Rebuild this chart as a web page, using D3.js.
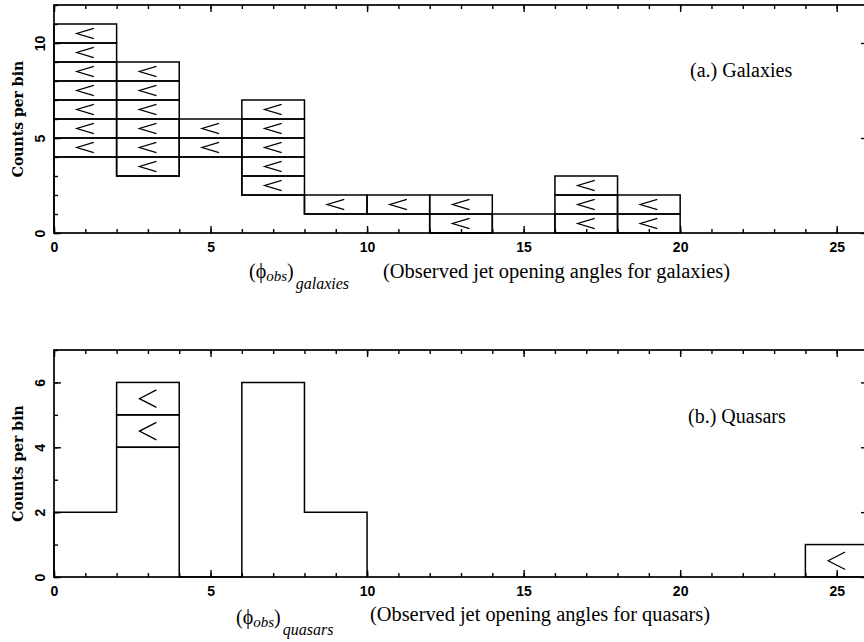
<!DOCTYPE html>
<html>
<head>
<meta charset="utf-8">
<script src="https://cdn.jsdelivr.net/npm/d3@7"></script>
<style>
  html, body { margin: 0; padding: 0; background: #fff; }
  svg { display: block; }
</style>
</head>
<body>
<div id="chart"></div>
<script>
// Data: bins of 2 degrees
const binStarts = [0, 2, 4, 6, 8, 10, 12, 14, 16, 18, 20, 22, 24];
const binWidth = 2;

// galaxies: detections (plain histogram) and upper limits (boxes with "<")
const galaxiesDet = [4, 3, 4, 2, 1, 1, 0, 1, 0, 0, 0, 0, 0];
const galaxiesLim = [7, 6, 2, 5, 1, 1, 2, 0, 3, 2, 0, 0, 0];

// quasars
const quasarsDet = [2, 4, 0, 6, 2, 0, 0, 0, 0, 0, 0, 0, 0];
const quasarsLim = [0, 2, 0, 0, 0, 0, 0, 0, 0, 0, 0, 0, 1];

// axis ticks
const xMajorTicks = [0, 5, 10, 15, 20, 25];
const xMinorTicks = d3.range(0, 27, 1);
const galaxiesYMajor = [0, 5, 10];
const galaxiesYMinor = d3.range(0, 13, 1);
const quasarsYMajor = [0, 2, 4, 6];
const quasarsYMinor = d3.range(0, 8, 1);

//---------------------------------------------------------------------------------------

const width = 864;
const height = 642;

const svg = d3
  .select("#chart")
  .append("svg")
  .attr("width", width)
  .attr("height", height)
  .attr("viewBox", [0, 0, width, height]);

// common x scale (the frame runs a little past the right edge of the picture)
const scaleX = d3.scaleLinear().domain([0, 26]).range([54, 868]);

const serif = "'Liberation Serif', 'Times New Roman', serif";
const boldSans = "'Liberation Sans', Arial, sans-serif";

//---------------------------------------------------------------------------------------

function drawPanel(cfg) {
  const scaleY = d3.scaleLinear().domain(cfg.yDomain).range(cfg.yRange);
  const g = svg.append("g");
  const x0 = scaleX.range()[0];
  const x1 = scaleX.range()[1];
  const yB = cfg.yRange[0];
  const yT = cfg.yRange[1];

  // axes (ticks pointing inside the frame)
  const bottomMajor = g.append("g")
    .attr("transform", `translate(0, ${yB})`)
    .call(d3.axisBottom(scaleX).tickValues(xMajorTicks).tickSizeInner(-7).tickSizeOuter(0).tickPadding(9).tickFormat(d3.format("d")))
    .call(a => a.select(".domain").remove());
  bottomMajor.selectAll("text")
    .attr("font-family", boldSans)
    .attr("font-weight", "bold")
    .attr("font-size", 14)
    .attr("fill", "#000");

  g.append("g")
    .attr("transform", `translate(0, ${yB})`)
    .call(d3.axisBottom(scaleX).tickValues(xMinorTicks).tickSizeInner(-4).tickSizeOuter(0).tickFormat(""))
    .call(a => a.select(".domain").remove());

  g.append("g")
    .attr("transform", `translate(0, ${yT})`)
    .call(d3.axisTop(scaleX).tickValues(xMajorTicks).tickSizeInner(-7).tickSizeOuter(0).tickFormat(""))
    .call(a => a.select(".domain").remove());

  g.append("g")
    .attr("transform", `translate(0, ${yT})`)
    .call(d3.axisTop(scaleX).tickValues(xMinorTicks).tickSizeInner(-4).tickSizeOuter(0).tickFormat(""))
    .call(a => a.select(".domain").remove());

  const leftMajor = g.append("g")
    .attr("transform", `translate(${x0}, 0)`)
    .call(d3.axisLeft(scaleY).tickValues(cfg.yMajor).tickSizeInner(-7).tickSizeOuter(0).tickFormat(d3.format("d")))
    .call(a => a.select(".domain").remove());
  leftMajor.selectAll("text")
    .attr("x", 0)
    .attr("dy", "0.36em")
    .attr("text-anchor", "middle")
    .attr("transform", "translate(-14, 0) rotate(-90)")
    .attr("font-family", boldSans)
    .attr("font-weight", "bold")
    .attr("font-size", 14)
    .attr("fill", "#000");

  g.append("g")
    .attr("transform", `translate(${x0}, 0)`)
    .call(d3.axisLeft(scaleY).tickValues(cfg.yMinor).tickSizeInner(-4).tickSizeOuter(0).tickFormat(""))
    .call(a => a.select(".domain").remove());

  g.append("g")
    .attr("transform", `translate(${x1}, 0)`)
    .call(d3.axisRight(scaleY).tickValues(cfg.yMajor).tickSizeInner(-7).tickSizeOuter(0).tickFormat(""))
    .call(a => a.select(".domain").remove());

  g.append("g")
    .attr("transform", `translate(${x1}, 0)`)
    .call(d3.axisRight(scaleY).tickValues(cfg.yMinor).tickSizeInner(-4).tickSizeOuter(0).tickFormat(""))
    .call(a => a.select(".domain").remove());

  g.selectAll(".tick line").attr("stroke", "#000").attr("stroke-width", 1.4);

  // frame
  g.append("rect")
    .attr("x", x0)
    .attr("y", yT)
    .attr("width", x1 - x0)
    .attr("height", yB - yT)
    .attr("fill", "none")
    .attr("stroke", "#000")
    .attr("stroke-width", 1.7);

  // detections: step outline
  const nLast = d3.max(binStarts.filter((b, i) => cfg.det[i] > 0)) + binWidth;
  const pts = [[0, 0]]
    .concat(binStarts.filter(b => b < nLast).map((b, i) => [b, cfg.det[i]]))
    .concat([[nLast, 0]]);
  const step = d3.line()
    .x(d => scaleX(d[0]))
    .y(d => scaleY(d[1]))
    .curve(d3.curveStepAfter);
  g.append("path")
    .attr("d", step(pts))
    .attr("fill", "none")
    .attr("stroke", "#000")
    .attr("stroke-width", 1.5);

  // upper limits: one box per count, stacked above detections
  const cells = [];
  binStarts.forEach((b, i) => {
    for (let k = 0; k < cfg.lim[i]; k++) {
      cells.push({ x: b, y0: cfg.det[i] + k, y1: cfg.det[i] + k + 1 });
    }
  });

  g.selectAll("rect.cell")
    .data(cells)
    .join("rect")
    .attr("class", "cell")
    .attr("x", d => scaleX(d.x))
    .attr("y", d => scaleY(d.y1))
    .attr("width", scaleX(binWidth) - scaleX(0))
    .attr("height", d => scaleY(d.y0) - scaleY(d.y1))
    .attr("fill", "none")
    .attr("stroke", "#000")
    .attr("stroke-width", 1.5);

  // "<" sign in every box
  g.selectAll("path.lt")
    .data(cells)
    .join("path")
    .attr("class", "lt")
    .attr("d", d => {
      const cx = scaleX(d.x + binWidth / 2);
      const cy = (scaleY(d.y0) + scaleY(d.y1)) / 2;
      const h = (scaleY(d.y0) - scaleY(d.y1)) * 0.54;
      return `M${cx + 8.5},${cy - h / 2}L${cx - 8.5},${cy}L${cx + 8.5},${cy + h / 2}`;
    })
    .attr("fill", "none")
    .attr("stroke", "#000")
    .attr("stroke-width", 1.3);

  // y title
  g.append("text")
    .attr("transform", `translate(18, ${(yB + yT) / 2}) rotate(-90)`)
    .attr("text-anchor", "middle")
    .attr("dy", "0.35em")
    .attr("font-family", "'DejaVu Serif', serif")
    .attr("font-weight", "bold")
    .attr("font-size", 14)
    .text("Counts per bin");

  // panel label
  g.append("text")
    .attr("x", cfg.label.x)
    .attr("y", cfg.label.y)
    .attr("font-family", serif)
    .attr("font-size", 20)
    .text(cfg.label.text);

  // x title: symbol part
  const sym = g.append("text")
    .attr("x", cfg.sym.x)
    .attr("y", cfg.sym.y)
    .attr("font-family", serif)
    .attr("font-size", 20);
  sym.append("tspan").text("(\u03D5");
  sym.append("tspan").attr("font-style", "italic").attr("font-size", 15).attr("dy", 3).text("obs");
  sym.append("tspan").attr("dy", -3).text(")");
  sym.append("tspan").attr("font-style", "italic").attr("font-size", 16).attr("dx", 2).attr("dy", 11).text(cfg.sym.sub);

  // x title: description
  g.append("text")
    .attr("x", cfg.desc.x)
    .attr("y", cfg.desc.y)
    .attr("font-family", serif)
    .attr("font-size", 20)
    .attr("textLength", cfg.desc.len)
    .attr("lengthAdjust", "spacingAndGlyphs")
    .text(cfg.desc.text);
}

//---------------------------------------------------------------------------------------

drawPanel({
  yDomain: [0, 12],
  yRange: [233, 5],
  yMajor: galaxiesYMajor,
  yMinor: galaxiesYMinor,
  det: galaxiesDet,
  lim: galaxiesLim,
  label: { text: "(a.) Galaxies", x: 690, y: 77 },
  sym: { x: 249, y: 278, sub: "galaxies" },
  desc: { text: "(Observed jet opening angles for galaxies)", x: 383, y: 278, len: 347 },
});

drawPanel({
  yDomain: [0, 7],
  yRange: [577, 350],
  yMajor: quasarsYMajor,
  yMinor: quasarsYMinor,
  det: quasarsDet,
  lim: quasarsLim,
  label: { text: "(b.) Quasars", x: 688, y: 423 },
  sym: { x: 236, y: 624, sub: "quasars" },
  desc: { text: "(Observed jet opening angles for quasars)", x: 370, y: 621, len: 340 },
});
</script>
</body>
</html>
